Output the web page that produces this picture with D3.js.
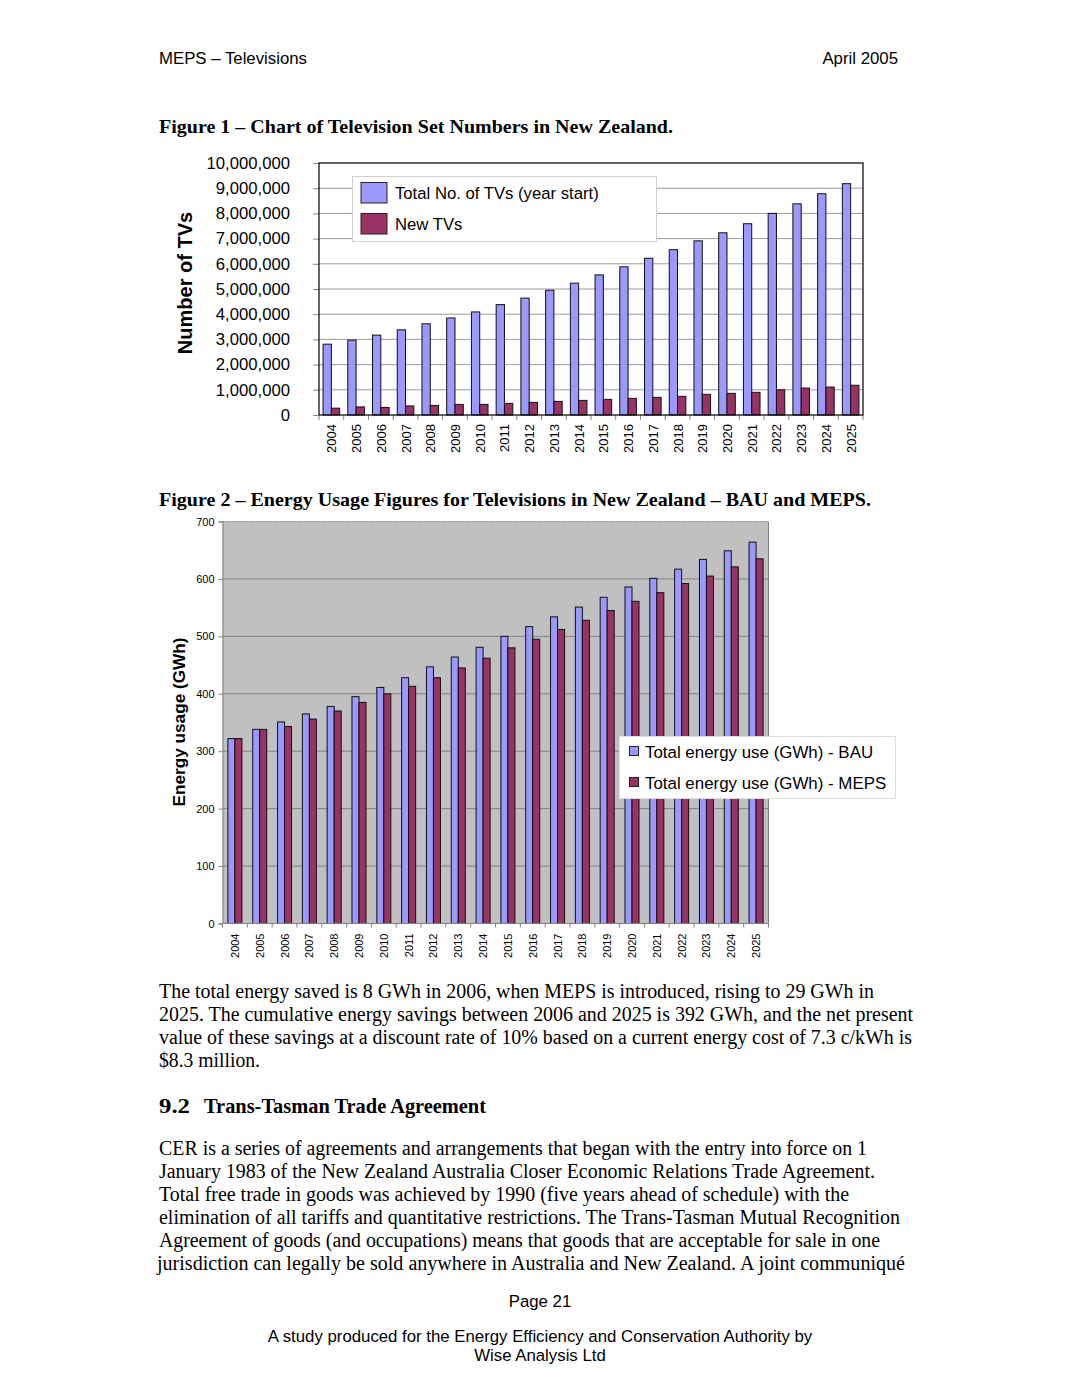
<!DOCTYPE html>
<html><head><meta charset="utf-8">
<script src="https://cdn.jsdelivr.net/npm/d3@7"></script>
<style>html,body{margin:0;padding:0;background:#fff}svg{display:block}</style>
</head><body>
<script>
const years = ["2004","2005","2006","2007","2008","2009","2010","2011","2012","2013","2014","2015","2016","2017","2018","2019","2020","2021","2022","2023","2024","2025"];
const totalTVs = [2810000,2970000,3170000,3380000,3620000,3850000,4090000,4380000,4640000,4950000,5230000,5560000,5880000,6220000,6560000,6910000,7230000,7590000,8000000,8380000,8780000,9180000];
const newTVs = [270000,320000,300000,360000,380000,420000,420000,460000,500000,540000,580000,620000,660000,700000,740000,820000,860000,900000,1000000,1070000,1110000,1180000];
const bau = [322,338,351,365,378,395,411,428,447,464,481,500,517,534,551,568,586,601,617,634,649,664];
const meps = [322,338,343,356,370,385,400,413,428,445,462,480,495,512,528,545,561,576,592,605,621,635];
const fig1Ticks = [0,1e6,2e6,3e6,4e6,5e6,6e6,7e6,8e6,9e6,10e6];
const fig2Ticks = [0,100,200,300,400,500,600,700];
const fig1Series = ["Total No. of TVs (year start)","New TVs"];
const fig2Series = ["Total energy use (GWh) - BAU","Total energy use (GWh) - MEPS"];
const colors = ["#9999FF","#993366"];

const svg = d3.select("body").append("svg").attr("width",1080).attr("height",1397);
const sans = "Liberation Sans, Arial, sans-serif";
const serif = "Liberation Serif, Times New Roman, serif";

function txt(x,y,s,opts={}){
  const t = svg.append("text").attr("x",x).attr("y",y).text(s)
    .attr("font-family",opts.family||serif).attr("font-size",opts.size||20)
    .attr("fill","#000");
  if(opts.bold) t.attr("font-weight","bold");
  if(opts.anchor) t.attr("text-anchor",opts.anchor);
  if(opts.len) t.attr("textLength",opts.len).attr("lengthAdjust","spacingAndGlyphs");
  return t;
}

// Header / footer
txt(159,64,"MEPS \u2013 Televisions",{family:sans,size:16.8});
txt(898,64,"April 2005",{family:sans,size:16.8,anchor:"end"});
txt(159,133,"Figure 1 \u2013 Chart of Television Set Numbers in New Zealand.",{bold:true,size:19,len:514});
txt(159,506,"Figure 2 \u2013 Energy Usage Figures for Televisions in New Zealand \u2013 BAU and MEPS.",{bold:true,size:19,len:712});

// ---------- Figure 1 ----------
{
  const L=319,R=863,T=163,B=415;
  const x = d3.scaleBand().domain(years).range([L,R]).padding(0);
  const xi = d3.scaleBand().domain([0,1]).range([0,x.bandwidth()]).paddingInner(0).paddingOuter(0.49);
  const y = d3.scaleLinear().domain([0,10e6]).range([B,T]);
  const g = svg.append("g");
  g.selectAll("line.grid").data(fig1Ticks.slice(1,-1)).join("line")
    .attr("x1",L).attr("x2",R).attr("y1",d=>y(d)).attr("y2",d=>y(d))
    .attr("stroke","#9a9a9a").attr("stroke-width",1);
  const ax = g.append("g").attr("transform",`translate(${L},0)`)
    .call(d3.axisLeft(y).tickValues(fig1Ticks).tickFormat(d3.format(",")).tickSize(6).tickPadding(23));
  ax.select(".domain").remove();
  ax.selectAll(".tick line").attr("stroke","#888");
  ax.selectAll("text").attr("font-family",sans).attr("font-size",16.7).attr("fill","#000");
  const series=[totalTVs,newTVs];
  series.forEach((vals,si)=>{
    g.selectAll(null).data(years).join("rect")
      .attr("x",d=>x(d)+xi(si)).attr("width",xi.bandwidth())
      .attr("y",(d,i)=>y(vals[i])).attr("height",(d,i)=>B-y(vals[i]))
      .attr("fill",colors[si]).attr("stroke","#111").attr("stroke-width",1);
  });
  g.selectAll(null).data(years.concat(["end"])).join("line")
    .attr("x1",(d,i)=>L+i*x.step()).attr("x2",(d,i)=>L+i*x.step())
    .attr("y1",B).attr("y2",B+5).attr("stroke","#888");
  const xa = g.append("g").attr("transform",`translate(0,${B})`)
    .call(d3.axisBottom(x).tickSize(0).tickPadding(0));
  xa.select(".domain").remove();
  xa.selectAll("text").attr("font-family",sans).attr("font-size",13).attr("fill","#000")
    .attr("text-anchor","end").attr("transform","translate(5,9) rotate(-90)").attr("dy",0).attr("y",0).attr("x",0);
  g.append("rect").attr("x",L).attr("y",T).attr("width",R-L).attr("height",B-T)
    .attr("fill","none").attr("stroke","#000").attr("stroke-width",1.2);
  svg.append("text").attr("transform","translate(192,283) rotate(-90)").attr("text-anchor","middle")
    .attr("font-family",sans).attr("font-weight","bold").attr("font-size",20).text("Number of TVs");
  const lg = svg.append("g");
  lg.append("rect").attr("x",352.5).attr("y",176.5).attr("width",304).attr("height",65)
    .attr("fill","#fff").attr("stroke","#cfcfcf");
  fig1Series.forEach((s,i)=>{
    lg.append("rect").attr("x",361).attr("y",182.5+i*31).attr("width",26).attr("height",20.5)
      .attr("fill",colors[i]).attr("stroke","#222");
    lg.append("text").attr("x",395).attr("y",199+i*31).attr("font-family",sans).attr("font-size",16.7).text(s);
  });
}

// ---------- Figure 2 ----------
{
  const L=222.5,R=768.5,T=521.5,B=923.5;
  const x = d3.scaleBand().domain(years).range([L,R]).padding(0);
  const xi = d3.scaleBand().domain([0,1]).range([0,x.bandwidth()]).paddingInner(0).paddingOuter(0.77);
  const y = d3.scaleLinear().domain([0,700]).range([B,T]);
  const g = svg.append("g");
  g.append("rect").attr("x",L).attr("y",T).attr("width",R-L).attr("height",B-T).attr("fill","#C0C0C0");
  g.selectAll(null).data(fig2Ticks.slice(1)).join("line")
    .attr("x1",L).attr("x2",R).attr("y1",d=>y(d)).attr("y2",d=>y(d))
    .attr("stroke","#808080").attr("stroke-width",1).attr("stroke-dasharray",d=>d===700?"2,1":null);
  const ax = g.append("g").attr("transform",`translate(${L},0)`)
    .call(d3.axisLeft(y).tickValues(fig2Ticks).tickSize(4).tickPadding(4));
  ax.select(".domain").attr("stroke","#808080");
  ax.selectAll(".tick line").attr("stroke","#808080");
  ax.selectAll("text").attr("font-family",sans).attr("font-size",11).attr("fill","#000");
  [bau,meps].forEach((vals,si)=>{
    g.selectAll(null).data(years).join("rect")
      .attr("x",d=>x(d)+xi(si)).attr("width",xi.bandwidth())
      .attr("y",(d,i)=>y(vals[i])).attr("height",(d,i)=>B-y(vals[i]))
      .attr("fill",colors[si]).attr("stroke","#111").attr("stroke-width",1);
  });
  g.append("line").attr("x1",R).attr("x2",R).attr("y1",T).attr("y2",B).attr("stroke","#808080");
  g.append("line").attr("x1",L).attr("x2",R).attr("y1",B).attr("y2",B).attr("stroke","#808080");
  g.selectAll(null).data(years.concat(["end"])).join("line")
    .attr("x1",(d,i)=>L+i*x.step()).attr("x2",(d,i)=>L+i*x.step())
    .attr("y1",B).attr("y2",B+4).attr("stroke","#808080");
  const xa = g.append("g").attr("transform",`translate(0,${B})`)
    .call(d3.axisBottom(x).tickSize(0).tickPadding(0));
  xa.select(".domain").remove();
  xa.selectAll("text").attr("font-family",sans).attr("font-size",11).attr("fill","#000")
    .attr("text-anchor","end").attr("transform","translate(4,10) rotate(-90)").attr("dy",0).attr("y",0).attr("x",0);
  svg.append("text").attr("transform","translate(185,722) rotate(-90)").attr("text-anchor","middle")
    .attr("font-family",sans).attr("font-weight","bold").attr("font-size",17.2).text("Energy usage (GWh)");
  const lg = svg.append("g");
  lg.append("rect").attr("x",619.5).attr("y",736.5).attr("width",276).attr("height",62)
    .attr("fill","#fff").attr("stroke","#dedede");
  fig2Series.forEach((s,i)=>{
    lg.append("rect").attr("x",629.5).attr("y",746.5+i*31).attr("width",9).attr("height",9)
      .attr("fill",colors[i]).attr("stroke","#222");
    lg.append("text").attr("x",645).attr("y",758+i*31).attr("font-family",sans).attr("font-size",16.9).text(s);
  });
}

// ---------- Body text ----------
const p1 = [
 ["The total energy saved is 8 GWh in 2006, when MEPS is introduced, rising to 29 GWh in",715],
 ["2025. The cumulative energy savings between 2006 and 2025 is 392 GWh, and the net present",754],
 ["value of these savings at a discount rate of 10% based on a current energy cost of 7.3 c/kWh is",753],
 ["$8.3 million.",101]
];
p1.forEach((l,i)=>txt(159,998+i*23,l[0],{size:20,len:l[1]}));
txt(159,1113,"9.2",{bold:true,size:20,len:31});
txt(204,1113,"Trans-Tasman Trade Agreement",{bold:true,size:20,len:282});
const p2 = [
 ["CER is a series of agreements and arrangements that began with the entry into force on 1",708],
 ["January 1983 of the New Zealand Australia Closer Economic Relations Trade Agreement.",716],
 ["Total free trade in goods was achieved by 1990 (five years ahead of schedule) with the",690],
 ["elimination of all tariffs and quantitative restrictions. The Trans-Tasman Mutual Recognition",741],
 ["Agreement of goods (and occupations) means that goods that are acceptable for sale in one",721],
 ["jurisdiction can legally be sold anywhere in Australia and New Zealand. A joint communiqu\u00e9",748]
];
p2.forEach((l,i)=>txt(i===5?157:159,1155+i*23,l[0],{size:20,len:l[1]}));

txt(540,1307,"Page 21",{family:sans,size:16.8,anchor:"middle"});
txt(540,1342,"A study produced for the Energy Efficiency and Conservation Authority by",{family:sans,size:16.8,anchor:"middle"});
txt(540,1361,"Wise Analysis Ltd",{family:sans,size:16.8,anchor:"middle"});
</script>
</body></html>
